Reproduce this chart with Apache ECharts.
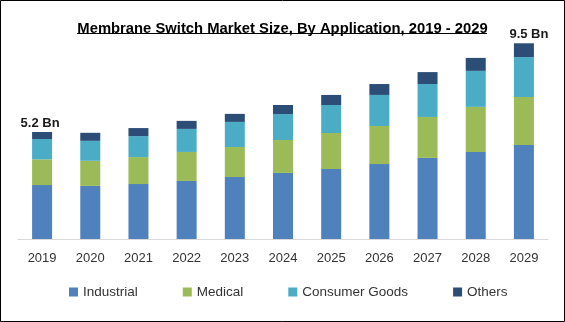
<!DOCTYPE html>
<html><head><meta charset="utf-8">
<script src="https://cdn.jsdelivr.net/npm/echarts@6/dist/echarts.min.js"></script>
<style>html,body{margin:0;padding:0;background:#fff}#c{width:565px;height:322px}</style>
</head><body><div id="c"></div>
<script>
const years = ['2019','2020','2021','2022','2023','2024','2025','2026','2027','2028','2029'];
const industrial = [2.62,2.58,2.67,2.82,3.01,3.21,3.40,3.64,3.94,4.23,4.57];
const medical    = [1.25,1.22,1.31,1.41,1.46,1.60,1.75,1.85,1.99,2.19,2.33];
const consumer   = [0.99,0.97,1.02,1.12,1.22,1.26,1.36,1.51,1.60,1.75,1.94];
const others     = [0.34,0.39,0.39,0.39,0.39,0.44,0.49,0.53,0.58,0.63,0.67];
const totalLabels = {0:'5.2 Bn', 10:'9.5 Bn'};
const labelOffsets = {0:[-2,0], 10:[5,0]};
const seriesNames = ['Industrial','Medical','Consumer Goods','Others'];
const colors = ['#4F81BD','#9BBB59','#4BACC6','#2C4D75'];

const chart = echarts.init(document.getElementById('c'));
const font = 'Liberation Sans, Arial, sans-serif';
const othersData = others.map((v,i)=> totalLabels[i] ? {
  value:v,
  label:{show:true,position:'top',distance:2,formatter:totalLabels[i],offset:labelOffsets[i],
         fontFamily:font,fontWeight:'bold',fontSize:13,color:'#1a1a1a'}
} : v);
const mk = (name,data,color)=>({name,type:'bar',stack:'t',data,barWidth:20,itemStyle:{color},emphasis:{disabled:true}});
chart.setOption({
  animation:false,
  title:{text:'Membrane Switch Market Size, By Application, 2019 - 2029',left:'center',top:16,
    textStyle:{fontFamily:font,fontWeight:'bold',fontSize:14.8,color:'#000'}},
  graphic:[
    {type:'rect',shape:{x:0.5,y:0.5,width:564,height:321},style:{fill:'none',stroke:'#000',lineWidth:1},silent:true},
    {type:'line',shape:{x1:77,y1:33.5,x2:487,y2:33.5},style:{stroke:'#000',lineWidth:1},silent:true}
  ],
  legend:{bottom:18,left:64,itemWidth:9,itemHeight:9,icon:'rect',itemGap:45,
    textStyle:{fontFamily:font,fontSize:13.5,color:'#333'},data:seriesNames},
  grid:{left:18,right:17,top:33.2,bottom:83},
  xAxis:{type:'category',data:years,axisLine:{lineStyle:{color:'#D9D9D9'}},axisTick:{show:false},
    axisLabel:{fontFamily:font,fontSize:13,color:'#333',margin:13}},
  yAxis:{type:'value',min:0,max:10,show:false,splitLine:{show:false}},
  series:[
    mk(seriesNames[0],industrial,colors[0]),
    mk(seriesNames[1],medical,colors[1]),
    mk(seriesNames[2],consumer,colors[2]),
    mk(seriesNames[3],othersData,colors[3])
  ]
});
</script></body></html>
